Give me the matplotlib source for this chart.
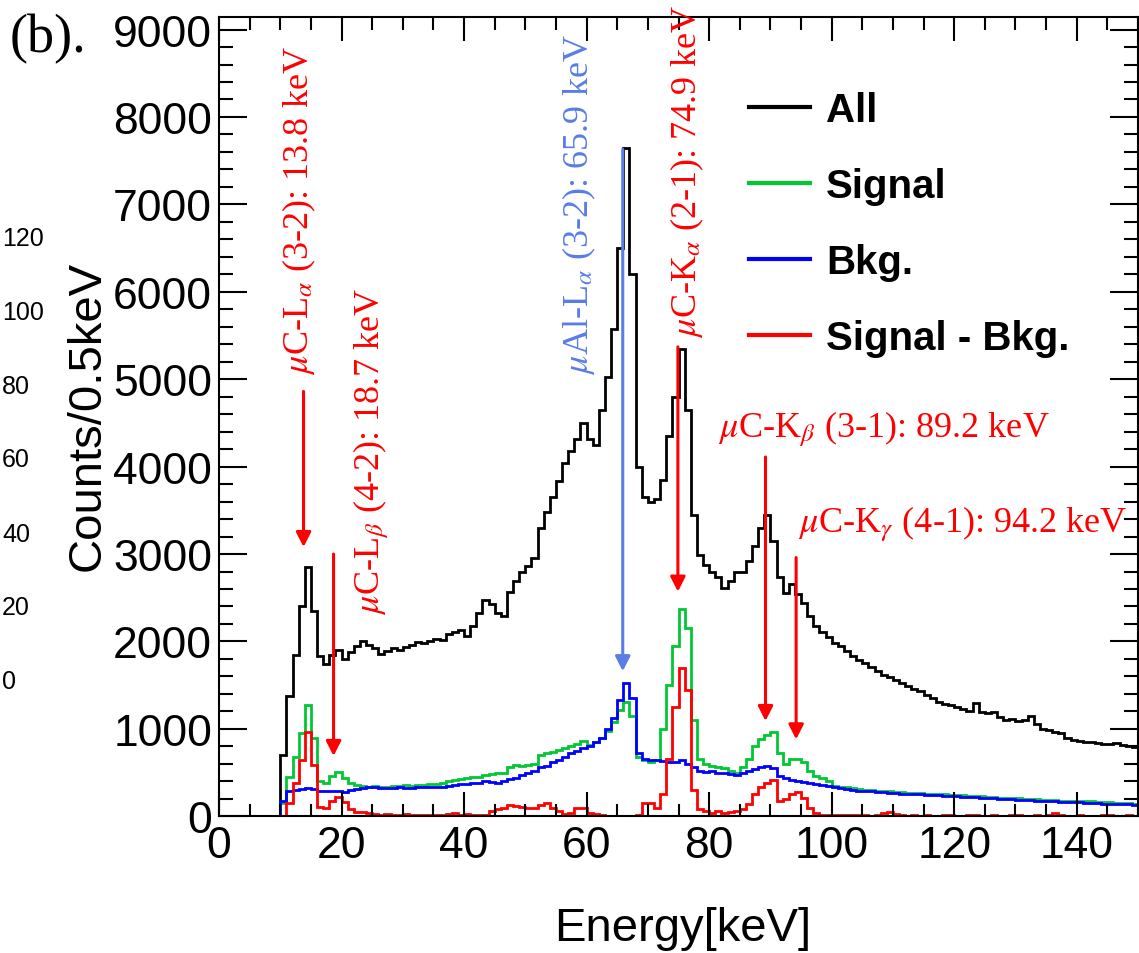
import matplotlib
matplotlib.use('Agg')
import matplotlib.pyplot as plt
import numpy as np
from matplotlib.ticker import MultipleLocator

plt.rcParams['font.family'] = ['Liberation Sans', 'DejaVu Sans']
plt.rcParams['mathtext.fontset'] = 'stix'

# 1 keV bins from 0 to 150 keV
edges = np.arange(0, 151, 1)

all_counts = [
    0, 0, 0, 0, 0, 0, 0, 0, 0, 0,
    700, 1380, 1850, 2400, 2850, 2350, 1830, 1740, 1850, 1900,
    1800, 1880, 1950, 2000, 1960, 1930, 1860, 1890, 1920, 1900,
    1940, 1960, 1990, 1980, 2010, 2030, 2020, 2090, 2110, 2130,
    2060, 2180, 2330, 2470, 2430, 2320, 2290, 2570, 2690, 2790,
    2860, 2950, 3300, 3480, 3650, 3830, 4040, 4180, 4320, 4500,
    4320, 4250, 4650, 5020, 5580, 6500, 7650, 6200, 4000, 3650,
    3600, 3630, 3850, 4350, 4800, 5350, 4650, 3450, 2990, 2870,
    2790, 2740, 2610, 2690, 2790, 2800, 2920, 3090, 3300, 3450,
    3150, 2740, 2560, 2660, 2540, 2440, 2290, 2180, 2110, 2050,
    1980, 1950, 1890, 1830, 1790, 1750, 1710, 1660, 1620, 1590,
    1560, 1520, 1490, 1460, 1430, 1390, 1350, 1310, 1290, 1270,
    1250, 1230, 1200, 1300, 1190, 1180, 1190, 1140, 1100, 1110,
    1090, 1100, 1150, 1060, 1000, 990, 970, 950, 900, 870,
    860, 850, 850, 840, 830, 830, 835, 815, 800, 790,
]

signal = [
    0, 0, 0, 0, 0, 0, 0, 0, 0, 0,
    150, 450, 680, 950, 1270, 900, 400, 380, 460, 510,
    440, 380, 360, 350, 340, 345, 335, 340, 345, 350,
    355, 350, 360, 360, 365, 370, 380, 400, 420, 430,
    440, 450, 450, 470, 480, 490, 500, 560, 590, 570,
    590, 600, 700, 720, 740, 760, 780, 800, 830, 860,
    820, 850, 900, 980, 1080, 1220, 1310, 1150, 680, 640,
    620, 640, 1000, 1500, 1950, 2370, 2150, 1100, 650, 600,
    580, 560, 550, 520, 500, 560, 660, 800, 880, 930,
    970, 720, 600, 660, 660, 620, 520, 460, 440, 400,
    350, 340, 330, 320, 310, 300, 300, 295, 290, 285,
    280, 275, 270, 270, 265, 260, 255, 255, 250, 245,
    245, 240, 235, 235, 230, 225, 220, 215, 210, 210,
    205, 200, 200, 195, 190, 190, 185, 180, 180, 175,
    175, 170, 170, 165, 160, 160, 155, 155, 150, 145,
]

background = [
    0, 0, 0, 0, 0, 0, 0, 0, 0, 0,
    180, 290, 300, 310, 320, 310, 290, 285, 285, 290,
    280, 300, 310, 320, 330, 330, 325, 320, 320, 330,
    320, 320, 330, 340, 330, 340, 340, 350, 360, 370,
    370, 380, 380, 400, 390, 380, 400, 430, 440, 470,
    490, 520, 560, 580, 620, 640, 680, 720, 750, 780,
    800, 850, 900, 1000, 1130, 1330, 1520, 1350, 720, 650,
    640, 640, 630, 620, 620, 640, 600, 560, 520, 510,
    520, 500, 490, 480, 470, 500, 520, 540, 560, 580,
    550, 460, 440, 420, 400, 390, 380, 370, 360, 345,
    335, 325, 315, 305, 295, 285, 285, 280, 275, 270,
    265, 260, 255, 255, 250, 245, 240, 240, 235, 230,
    230, 225, 220, 220, 215, 210, 205, 200, 195, 195,
    190, 185, 185, 180, 175, 175, 170, 165, 165, 160,
    160, 155, 155, 150, 145, 145, 140, 140, 135, 130,
]

sig_minus_bkg = [
    0, 0, 0, 0, 0, 0, 0, 0, 0, 0,
    0, 150, 380, 640, 960, 590, 110, 95, 175, 220,
    160, 80, 50, 45, 40, 30, 20, 25, 20, 20,
    30, 15, 20, 10, 20, 15, 20, 30, 35, 20,
    30, 20, 10, 20, 60, 80, 90, 130, 120, 110,
    90, 100, 130, 150, 90, 60, 30, 40, 100, 90,
    40, 30, 10, 0, 0, 0, 0, 0, 10, 150,
    150, 100, 250, 650, 1250, 1700, 1450, 300, 80, 60,
    40, 60, 40, 50, 60, 80, 140, 250, 330, 380,
    420, 180, 200, 260, 280, 210, 90, 40, 20, 15,
    20, 10, 15, 10, 20, 10, 5, 10, 40, 50,
    30, 10, 5, 10, 0, 10, 5, 0, 10, 15,
    0, 5, 20, 10, 0, 5, 10, 0, 0, 15,
    10, 0, 5, 10, 0, 20, 40, 10, 0, 5,
    10, 0, 5, 0, 10, 20, 5, 0, 10, 5,
]

series_labels = ['All', 'Signal', 'Bkg.', 'Signal - Bkg.']
series_colors = ['black', '#00c832', '#0000ff', '#ff0000']

# muonic x-ray lines (keV) and their labels
line_energies = [13.8, 18.7, 65.9, 74.9, 89.2, 94.2]
line_labels = [
    r'$\mu$C-L$_{\alpha}$ (3-2): 13.8 keV',
    r'$\mu$C-L$_{\beta}$ (4-2): 18.7 keV',
    r'$\mu$Al-L$_{\alpha}$ (3-2): 65.9 keV',
    r'$\mu$C-K$_{\alpha}$ (2-1): 74.9 keV',
    r'$\mu$C-K$_{\beta}$ (3-1): 89.2 keV',
    r'$\mu$C-K$_{\gamma}$ (4-1): 94.2 keV',
]
line_colors = ['#ff0000', '#ff0000', '#5a7de6', '#ff0000', '#ff0000', '#ff0000']

# arrow start/end heights and label anchors (counts / keV)
arrow_top = [4860, 3000, 7630, 5370, 4110, 2960]
arrow_tip = [3080, 690, 1660, 2570, 1090, 880]
label_xy = [(13.05, 5060), (24.8, 2310), (58.8, 5060), (76.5, 5480),
            (81.4, 4345), (94.5, 3265)]
label_vertical = [True, True, True, True, False, False]

fig = plt.figure(figsize=(11.39, 9.54), dpi=100)
ax = fig.add_axes([219 / 1139, (954 - 817.3) / 954, 919 / 1139, 799 / 954])

for vals, lab, col in zip([all_counts, signal, background, sig_minus_bkg],
                          series_labels, series_colors):
    ax.stairs(vals, edges, baseline=None, color=col, lw=2.0, label=lab)

for e, txt, col, top, tip, xy, vert in zip(line_energies, line_labels, line_colors,
                                          arrow_top, arrow_tip, label_xy, label_vertical):
    ax.annotate('', xy=(e, tip), xytext=(e, top),
                arrowprops=dict(arrowstyle='-|>,head_length=0.55,head_width=0.28',
                                color=col, lw=2.2, mutation_scale=16,
                                shrinkA=0, shrinkB=0))
    if vert:
        ax.text(xy[0], xy[1], txt, color=col, fontsize=26, rotation=90,
                ha='center', va='bottom', family='Liberation Serif')
    else:
        ax.text(xy[0], xy[1], txt, color=col, fontsize=26,
                ha='left', va='baseline', family='Liberation Serif')

ax.set_xlim(0, 150)
ax.set_ylim(0, 9140)
ax.xaxis.set_major_locator(MultipleLocator(20))
ax.xaxis.set_minor_locator(MultipleLocator(5))
ax.yaxis.set_major_locator(MultipleLocator(1000))
ax.yaxis.set_minor_locator(MultipleLocator(200))
ax.tick_params(axis='both', which='both', direction='in', top=True, right=True,
               width=1.5, colors='black')
ax.tick_params(axis='x', which='major', length=17, labelsize=32, pad=6)
ax.tick_params(axis='x', which='minor', length=9)
ax.tick_params(axis='y', which='major', length=20, labelsize=32, pad=5)
ax.tick_params(axis='y', which='minor', length=10)
for sp in ax.spines.values():
    sp.set_linewidth(1.5)

leg = ax.legend(loc='upper left', bbox_to_anchor=(0.577, 0.9075), frameon=False,
                borderpad=0, borderaxespad=0, handlelength=1.52, handletextpad=0.38,
                labelspacing=0.94, prop={'weight': 'bold', 'size': 29})
for h in leg.get_lines():
    h.set_linewidth(3)

fig.text(88 / 1139, 1 - 416 / 954, 'Counts/0.5keV', rotation=90, fontsize=34,
         ha='center', va='center')
fig.text(683 / 1139, 1 - 929 / 954, 'Energy[keV]', fontsize=34,
         ha='center', va='center')
fig.text(10 / 1139, 1 - 52 / 954, '(b).', fontsize=39, family='Liberation Serif',
         ha='left', va='baseline')

# tick labels of the neighbouring panel showing at the left edge
side_ticks = [0, 20, 40, 60, 80, 100, 120]
ax_side = fig.add_axes([0, (954 - 680) / 954, 0.0005, 444 / 954])
ax_side.set_ylim(0, 120)
ax_side.set_yticks(side_ticks)
ax_side.set_yticklabels([str(t) for t in side_ticks])
ax_side.yaxis.tick_right()
ax_side.tick_params(axis='y', length=0, pad=1, labelsize=18)
ax_side.set_xticks([])
for sp in ax_side.spines.values():
    sp.set_visible(False)
ax_side.patch.set_visible(False)

fig.savefig('out.png', dpi=100)
